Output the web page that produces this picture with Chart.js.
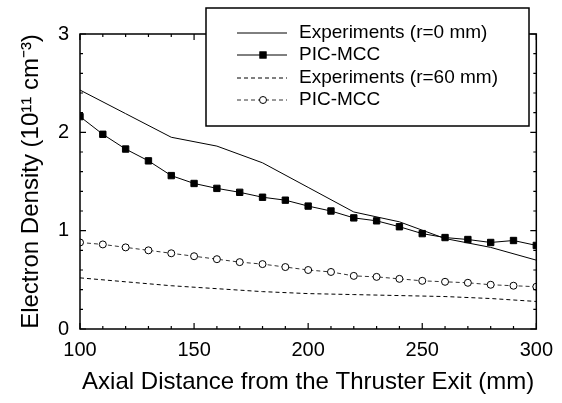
<!DOCTYPE html>
<html>
<head>
<meta charset="utf-8">
<script src="https://cdn.jsdelivr.net/npm/chart.js@4.4.1/dist/chart.umd.min.js"></script>
<style>
  html, body { margin: 0; padding: 0; background: #fff; }
  #wrap { width: 562px; height: 403px; }
</style>
</head>
<body>
<div id="wrap"><canvas id="chart" width="562" height="403"></canvas></div>
<script>
// data
const distA = [100, 120, 140, 160, 180, 200, 220, 240, 260, 280, 300];
const expR0 = [2.43, 2.19, 1.95, 1.86, 1.69, 1.44, 1.19, 1.09, 0.92, 0.83, 0.70];
const expR60 = [0.52, 0.48, 0.44, 0.41, 0.38, 0.36, 0.35, 0.34, 0.33, 0.31, 0.28];

const distB = [100, 110, 120, 130, 140, 150, 160, 170, 180, 190, 200, 210, 220, 230, 240, 250, 260, 270, 280, 290, 300];
const picR0 = [2.16, 1.98, 1.83, 1.71, 1.56, 1.48, 1.43, 1.39, 1.34, 1.31, 1.25, 1.20, 1.13, 1.10, 1.04, 0.97, 0.93, 0.91, 0.88, 0.90, 0.85];
const picR60 = [0.88, 0.86, 0.83, 0.80, 0.77, 0.74, 0.71, 0.68, 0.66, 0.63, 0.60, 0.58, 0.54, 0.53, 0.51, 0.49, 0.48, 0.47, 0.45, 0.44, 0.43];

const seriesLabels = ["Experiments (r=0 mm)", "PIC-MCC", "Experiments (r=60 mm)", "PIC-MCC"];
const xTicks = [100, 150, 200, 250, 300];
const yTicks = [0, 1, 2, 3];

const FONT = "'Liberation Sans', Arial, sans-serif";

const toXY = (xs, ys) => xs.map((x, i) => ({ x: x, y: ys[i] }));

// frame + inward ticks on all four sides, and the boxed legend
const framePlugin = {
  id: 'frame',
  afterDatasetsDraw(chart) {
    const ctx = chart.ctx;
    const a = chart.chartArea;
    const xs = chart.scales.x, ys = chart.scales.y;
    ctx.save();
    ctx.strokeStyle = '#000';
    ctx.lineWidth = 1.5;
    ctx.strokeRect(a.left, a.top, a.right - a.left, a.bottom - a.top);
    ctx.lineWidth = 1.2;
    ctx.beginPath();
    for (let v = 100; v <= 300; v += 10) {
      const px = xs.getPixelForValue(v);
      const len = (v % 50 === 0) ? 6 : 3;
      ctx.moveTo(px, a.bottom); ctx.lineTo(px, a.bottom - len);
      ctx.moveTo(px, a.top); ctx.lineTo(px, a.top + len);
    }
    for (let k = 0; k <= 15; k++) {
      const v = k * 0.2;
      const py = ys.getPixelForValue(v);
      const len = (k % 5 === 0) ? 6 : 3;
      ctx.moveTo(a.left, py); ctx.lineTo(a.left + len, py);
      ctx.moveTo(a.right, py); ctx.lineTo(a.right - len, py);
    }
    ctx.stroke();
    ctx.restore();
  },
  afterDraw(chart) {
    const ctx = chart.ctx;
    const bx = 206, by = 8, bw = 323, bh = 118;
    ctx.save();
    ctx.fillStyle = '#fff';
    ctx.fillRect(bx, by, bw, bh);
    ctx.strokeStyle = '#000';
    ctx.lineWidth = 1.5;
    ctx.strokeRect(bx, by, bw, bh);
    const rows = [33, 55, 78, 100];
    chart.data.datasets.forEach((ds, i) => {
      const y = rows[i];
      ctx.save();
      ctx.strokeStyle = ds.borderColor;
      ctx.lineWidth = ds.borderWidth;
      ctx.setLineDash(ds.borderDash || []);
      ctx.beginPath();
      ctx.moveTo(237, y); ctx.lineTo(287, y);
      ctx.stroke();
      ctx.setLineDash([]);
      if (ds.pointRadius > 0) {
        const r = ds.pointRadius;
        ctx.fillStyle = ds.pointBackgroundColor;
        ctx.strokeStyle = ds.pointBorderColor;
        ctx.lineWidth = 1;
        if (ds.pointStyle === 'rect') {
          const h = r * Math.SQRT1_2;
          ctx.fillRect(263 - h, y - h, 2 * h, 2 * h);
          ctx.strokeRect(263 - h, y - h, 2 * h, 2 * h);
        } else {
          ctx.beginPath();
          ctx.arc(263, y, r, 0, Math.PI * 2);
          ctx.fill(); ctx.stroke();
        }
      }
      ctx.restore();
      ctx.fillStyle = '#000';
      ctx.font = '19px ' + FONT;
      ctx.textBaseline = 'middle';
      ctx.fillText(ds.label, 299, y);
    });
    ctx.restore();
  }
};

new Chart(document.getElementById('chart'), {
  type: 'line',
  data: {
    datasets: [
      {
        label: seriesLabels[0],
        data: toXY(distA, expR0),
        borderColor: '#000', borderWidth: 1,
        pointRadius: 0, tension: 0
      },
      {
        label: seriesLabels[1],
        data: toXY(distB, picR0),
        borderColor: '#000', borderWidth: 1,
        pointStyle: 'rect', pointRadius: 4.5,
        pointBackgroundColor: '#000', pointBorderColor: '#000', pointBorderWidth: 1
      },
      {
        label: seriesLabels[2],
        data: toXY(distA, expR60),
        borderColor: '#000', borderWidth: 1, borderDash: [4, 3],
        pointRadius: 0
      },
      {
        label: seriesLabels[3],
        data: toXY(distB, picR60),
        borderColor: '#333', borderWidth: 1, borderDash: [4, 3],
        pointStyle: 'circle', pointRadius: 3.5,
        pointBackgroundColor: '#fff', pointBorderColor: '#000', pointBorderWidth: 1
      }
    ]
  },
  options: {
    responsive: false,
    animation: false,
    layout: { padding: { top: 34, right: 24, left: 0, bottom: 0 } },
    plugins: { legend: { display: false }, tooltip: { enabled: false } },
    scales: {
      x: {
        type: 'linear', min: 100, max: 300,
        grid: { display: false, drawTicks: false },
        border: { display: false },
        afterBuildTicks: (s) => { s.ticks = xTicks.map(v => ({ value: v })); },
        afterFit: (s) => { s.height = 74; },
        ticks: { color: '#000', font: { family: FONT, size: 20 }, padding: 9 },
        title: {
          display: true, text: 'Axial Distance from the Thruster Exit (mm)',
          color: '#000', font: { family: FONT, size: 24 }, padding: { top: 0, bottom: 6 }
        }
      },
      y: {
        type: 'linear', min: 0, max: 3,
        grid: { display: false, drawTicks: false },
        border: { display: false },
        afterBuildTicks: (s) => { s.ticks = yTicks.map(v => ({ value: v })); },
        afterFit: (s) => { s.width = 80; },
        ticks: { color: '#000', font: { family: FONT, size: 20 }, padding: 11 },
        title: {
          display: true, text: 'Electron Density (10\u00B9\u00B9 cm\u207B\u00B3)',
          color: '#000', font: { family: FONT, size: 24 }, padding: { top: 17, bottom: 0 }
        }
      }
    }
  },
  plugins: [framePlugin]
});
</script>
</body>
</html>
